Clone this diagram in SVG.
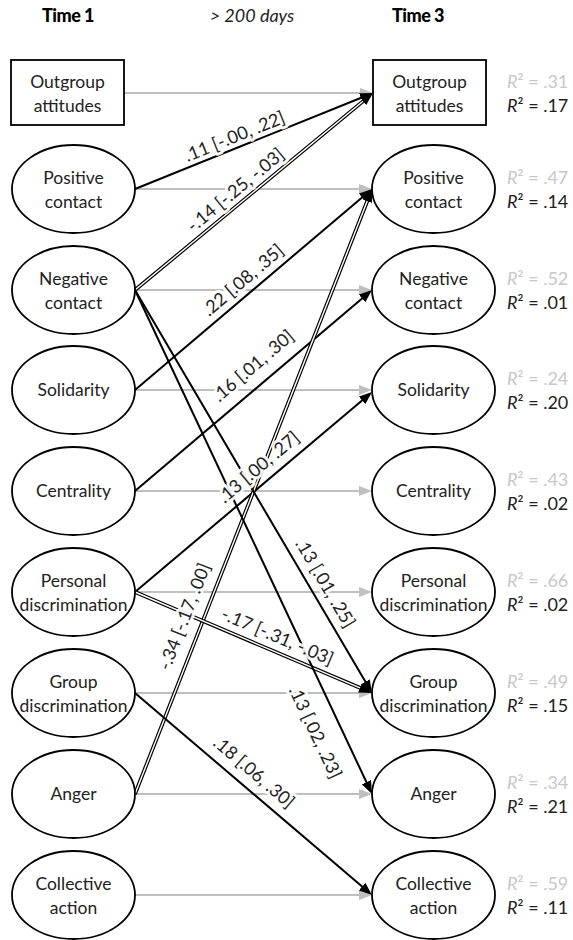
<svg xmlns="http://www.w3.org/2000/svg" width="573" height="940" viewBox="0 0 573 940">
<style>
.node ellipse,.node rect{fill:#fff;stroke:#000;stroke-width:1.8}
text{font-family:Lato,"Open Sans","DejaVu Sans",sans-serif}
.nt{font-size:17.5px;font-weight:400;fill:#222;text-anchor:middle}
.r2{font-size:18px;font-weight:400}
.r2a{fill:#c8c8c8}
.r2b{fill:#222}
.hd{font-size:18px;font-weight:900;fill:#000;text-anchor:middle;letter-spacing:-0.5px}
.hdi{font-size:18px;font-style:italic;font-weight:400;fill:#222;text-anchor:middle}
.gray{stroke:#bfbfbf;stroke-width:2;fill:none;marker-end:url(#ag)}
.blk{stroke:#000;stroke-width:2;fill:none;marker-end:url(#ab)}
.dbl{stroke:#000;stroke-width:3.8;fill:none;marker-end:url(#ab)}
.dblin{stroke:#fff;stroke-width:1.4;fill:none}
.lbl{font-size:18px;font-weight:400;fill:#222;text-anchor:middle}
.halo{font-size:18px;font-weight:400;fill:#fff;stroke:#fff;stroke-width:6;stroke-linejoin:round;text-anchor:middle;opacity:0.9}
</style>
<defs>
<marker id="ab" markerUnits="userSpaceOnUse" markerWidth="14" markerHeight="10" refX="5" refY="5" orient="auto"><path d="M0,0 L13,5 L0,10 Z" fill="#000"/></marker>
<marker id="ag" markerUnits="userSpaceOnUse" markerWidth="14" markerHeight="10" refX="5" refY="5" orient="auto"><path d="M0,0 L13,5 L0,10 Z" fill="#bfbfbf"/></marker>
</defs>

<g id="headers">
<text class="hd" x="68" y="22">Time 1</text>
<text class="hdi" x="252" y="22">&gt; 200 days</text>
<text class="hd" x="418" y="22">Time 3</text>
</g>

<g id="connectors">
<line class="gray" x1="124" y1="93" x2="365" y2="93"/>
<line class="gray" x1="135" y1="189" x2="364" y2="189"/>
<line class="gray" x1="135" y1="290" x2="364" y2="290"/>
<line class="gray" x1="135" y1="390" x2="364" y2="390"/>
<line class="gray" x1="135" y1="491" x2="364" y2="491"/>
<line class="gray" x1="135" y1="592" x2="364" y2="592"/>
<line class="gray" x1="135" y1="693" x2="364" y2="693"/>
<line class="gray" x1="135" y1="794" x2="364" y2="794"/>
<line class="gray" x1="135" y1="895" x2="364" y2="895"/>

<line class="blk" x1="135" y1="189" x2="365.58" y2="95.99"/>
<line class="dbl" x1="135" y1="290" x2="366.84" y2="98.10"/>
<line class="dblin" x1="135" y1="290" x2="362.99" y2="101.29"/>
<line class="blk" x1="135" y1="390" x2="365.90" y2="194.17"/>
<line class="blk" x1="135" y1="491" x2="365.90" y2="295.17"/>
<line class="blk" x1="135" y1="592" x2="365.89" y2="397.16"/>
<line class="dbl" x1="135" y1="794" x2="369.08" y2="196.45"/>
<line class="dblin" x1="135" y1="794" x2="367.26" y2="201.10"/>
<line class="blk" x1="135" y1="290" x2="367.94" y2="686.10"/>
<line class="dbl" x1="135" y1="592" x2="364.64" y2="689.86"/>
<line class="dblin" x1="135" y1="592" x2="360.04" y2="687.90"/>
<line class="blk" x1="135" y1="290" x2="368.60" y2="786.76"/>
<line class="blk" x1="135" y1="693" x2="365.91" y2="889.81"/>

<g id="edge-labels">
<g transform="translate(236,140) rotate(-21.97)"><text class="halo" y="-4" dy="0.35em">.11 [-.00, .22]</text><text class="lbl" y="-4" dy="0.35em">.11 [-.00, .22]</text></g>
<g transform="translate(238,193) rotate(-39.62)"><text class="halo" y="-4" dy="0.35em">-.14 [-.25, -.03]</text><text class="lbl" y="-4" dy="0.35em">-.14 [-.25, -.03]</text></g>
<g transform="translate(245.5,283) rotate(-40.3)"><text class="halo" y="-4" dy="0.35em">.22 [.08, .35]</text><text class="lbl" y="-4" dy="0.35em">.22 [.08, .35]</text></g>
<g transform="translate(255,368) rotate(-40.3)"><text class="halo" y="-3" dy="0.35em">.16 [.01, .30]</text><text class="lbl" y="-3" dy="0.35em">.16 [.01, .30]</text></g>
<g transform="translate(261,470) rotate(-40.16)"><text class="halo" y="-4" dy="0.35em">.13 [.00, .27]</text><text class="lbl" y="-4" dy="0.35em">.13 [.00, .27]</text></g>
<g transform="translate(188,618) rotate(-68.61)"><text class="halo" y="-4" dy="0.35em">-.34 [-.17, .00]</text><text class="lbl" y="-4" dy="0.35em">-.34 [-.17, .00]</text></g>
<g transform="translate(322,585) rotate(59.54)"><text class="halo" y="-4" dy="0.35em">.13 [.01, .25]</text><text class="lbl" y="-4" dy="0.35em">.13 [.01, .25]</text></g>
<g transform="translate(276,640) rotate(23.08)"><text class="halo" y="-4" dy="0.35em">-.17 [-.31, -.03]</text><text class="lbl" y="-4" dy="0.35em">-.17 [-.31, -.03]</text></g>
<g transform="translate(320,730) rotate(64.81)"><text class="halo" y="5" dy="0.35em">.13 [.02, .23]</text><text class="lbl" y="5" dy="0.35em">.13 [.02, .23]</text></g>
<g transform="translate(251.5,775) rotate(40.44)"><text class="halo" y="-4" dy="0.35em">.18 [.06, .30]</text><text class="lbl" y="-4" dy="0.35em">.18 [.06, .30]</text></g>
</g>
</g>

<g id="t1-outgroup-attitudes" class="node"><rect x="11" y="60" width="113" height="65"/><text class="nt" x="67.5" y="87.5">Outgroup</text><text class="nt" x="67.5" y="111.5">attitudes</text></g>
<g id="t1-positive-contact" class="node"><ellipse cx="73.5" cy="189" rx="61.5" ry="44"/><text class="nt" x="73.5" y="184">Positive</text><text class="nt" x="73.5" y="208">contact</text></g>
<g id="t1-negative-contact" class="node"><ellipse cx="73.5" cy="290" rx="61.5" ry="44"/><text class="nt" x="73.5" y="285">Negative</text><text class="nt" x="73.5" y="309">contact</text></g>
<g id="t1-solidarity" class="node"><ellipse cx="73.5" cy="390" rx="61.5" ry="44"/><text class="nt" x="73.5" y="396">Solidarity</text></g>
<g id="t1-centrality" class="node"><ellipse cx="73.5" cy="491" rx="61.5" ry="44"/><text class="nt" x="73.5" y="497">Centrality</text></g>
<g id="t1-personal-discrimination" class="node"><ellipse cx="73.5" cy="592" rx="61.5" ry="44"/><text class="nt" x="73.5" y="587">Personal</text><text class="nt" x="73.5" y="611">discrimination</text></g>
<g id="t1-group-discrimination" class="node"><ellipse cx="73.5" cy="693" rx="61.5" ry="44"/><text class="nt" x="73.5" y="688">Group</text><text class="nt" x="73.5" y="712">discrimination</text></g>
<g id="t1-anger" class="node"><ellipse cx="73.5" cy="794" rx="61.5" ry="44"/><text class="nt" x="73.5" y="800">Anger</text></g>
<g id="t1-collective-action" class="node"><ellipse cx="73.5" cy="895" rx="61.5" ry="44"/><text class="nt" x="73.5" y="890">Collective</text><text class="nt" x="73.5" y="914">action</text></g>

<g id="t3-outgroup-attitudes" class="node"><rect x="373" y="60" width="113" height="65"/><text class="nt" x="429.5" y="87.5">Outgroup</text><text class="nt" x="429.5" y="111.5">attitudes</text>
<text class="r2 r2a" x="507" y="87.5"><tspan font-style="italic">R</tspan>² = .31</text><text class="r2 r2b" x="507" y="111.5"><tspan font-style="italic">R</tspan>² = .17</text></g>
<g id="t3-positive-contact" class="node"><ellipse cx="433.5" cy="189" rx="61.5" ry="44"/><text class="nt" x="433.5" y="184">Positive</text><text class="nt" x="433.5" y="208">contact</text>
<text class="r2 r2a" x="507" y="184"><tspan font-style="italic">R</tspan>² = .47</text><text class="r2 r2b" x="507" y="208"><tspan font-style="italic">R</tspan>² = .14</text></g>
<g id="t3-negative-contact" class="node"><ellipse cx="433.5" cy="290" rx="61.5" ry="44"/><text class="nt" x="433.5" y="285">Negative</text><text class="nt" x="433.5" y="309">contact</text>
<text class="r2 r2a" x="507" y="285"><tspan font-style="italic">R</tspan>² = .52</text><text class="r2 r2b" x="507" y="309"><tspan font-style="italic">R</tspan>² = .01</text></g>
<g id="t3-solidarity" class="node"><ellipse cx="433.5" cy="390" rx="61.5" ry="44"/><text class="nt" x="433.5" y="396">Solidarity</text>
<text class="r2 r2a" x="507" y="385"><tspan font-style="italic">R</tspan>² = .24</text><text class="r2 r2b" x="507" y="409"><tspan font-style="italic">R</tspan>² = .20</text></g>
<g id="t3-centrality" class="node"><ellipse cx="433.5" cy="491" rx="61.5" ry="44"/><text class="nt" x="433.5" y="497">Centrality</text>
<text class="r2 r2a" x="507" y="486"><tspan font-style="italic">R</tspan>² = .43</text><text class="r2 r2b" x="507" y="510"><tspan font-style="italic">R</tspan>² = .02</text></g>
<g id="t3-personal-discrimination" class="node"><ellipse cx="433.5" cy="592" rx="61.5" ry="44"/><text class="nt" x="433.5" y="587">Personal</text><text class="nt" x="433.5" y="611">discrimination</text>
<text class="r2 r2a" x="507" y="587"><tspan font-style="italic">R</tspan>² = .66</text><text class="r2 r2b" x="507" y="611"><tspan font-style="italic">R</tspan>² = .02</text></g>
<g id="t3-group-discrimination" class="node"><ellipse cx="433.5" cy="693" rx="61.5" ry="44"/><text class="nt" x="433.5" y="688">Group</text><text class="nt" x="433.5" y="712">discrimination</text>
<text class="r2 r2a" x="507" y="688"><tspan font-style="italic">R</tspan>² = .49</text><text class="r2 r2b" x="507" y="712"><tspan font-style="italic">R</tspan>² = .15</text></g>
<g id="t3-anger" class="node"><ellipse cx="433.5" cy="794" rx="61.5" ry="44"/><text class="nt" x="433.5" y="800">Anger</text>
<text class="r2 r2a" x="507" y="789"><tspan font-style="italic">R</tspan>² = .34</text><text class="r2 r2b" x="507" y="813"><tspan font-style="italic">R</tspan>² = .21</text></g>
<g id="t3-collective-action" class="node"><ellipse cx="433.5" cy="895" rx="61.5" ry="44"/><text class="nt" x="433.5" y="890">Collective</text><text class="nt" x="433.5" y="914">action</text>
<text class="r2 r2a" x="507" y="890"><tspan font-style="italic">R</tspan>² = .59</text><text class="r2 r2b" x="507" y="914"><tspan font-style="italic">R</tspan>² = .11</text></g>
</svg>
